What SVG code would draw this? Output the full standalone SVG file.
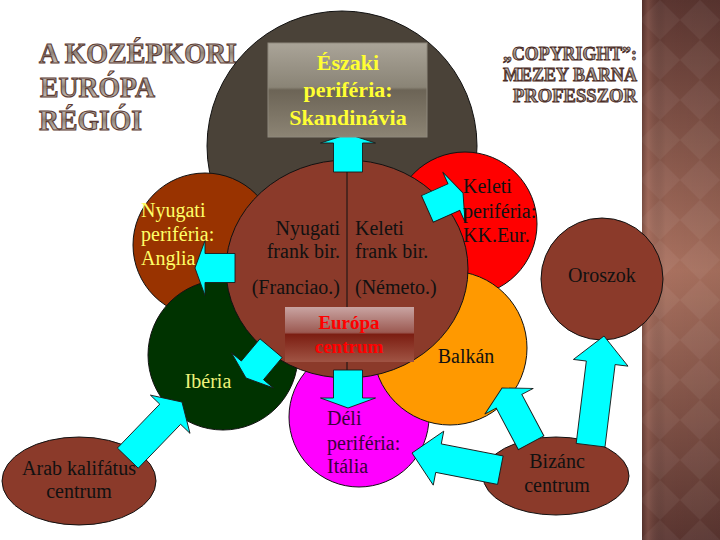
<svg xmlns="http://www.w3.org/2000/svg" width="720" height="540" viewBox="0 0 720 540">
<defs>
<linearGradient id="panelV" x1="0" y1="0" x2="0" y2="1">
<stop offset="0" stop-color="#5a3530"/>
<stop offset="0.5" stop-color="#a9715f"/>
<stop offset="1" stop-color="#5a3530"/>
</linearGradient>
<linearGradient id="panelH" x1="0" y1="0" x2="1" y2="0">
<stop offset="0" stop-color="#3a1e1a" stop-opacity="0.35"/>
<stop offset="0.08" stop-color="#c08070" stop-opacity="0.25"/>
<stop offset="0.3" stop-color="#000" stop-opacity="0"/>
<stop offset="1" stop-color="#000" stop-opacity="0.05"/>
</linearGradient>
<pattern id="diam" width="40" height="40" patternUnits="userSpaceOnUse">
<path d="M0 20 L20 0 L40 20 L20 40 Z" fill="#ffffff" fill-opacity="0.05"/>
</pattern>
<linearGradient id="titleFill" x1="0" y1="0" x2="0" y2="1">
<stop offset="0" stop-color="#f2eeea"/>
<stop offset="0.5" stop-color="#8e847a"/>
<stop offset="1" stop-color="#e4ded8"/>
</linearGradient>
<linearGradient id="northBox" x1="0" y1="0" x2="0" y2="1">
<stop offset="0" stop-color="#aaa498"/>
<stop offset="0.47" stop-color="#8a8476"/>
<stop offset="0.5" stop-color="#6c6456"/>
<stop offset="1" stop-color="#8c8474"/>
</linearGradient>
<linearGradient id="euBox" x1="0" y1="0" x2="0" y2="1">
<stop offset="0" stop-color="#c9a4a2"/>
<stop offset="0.46" stop-color="#9c5a52"/>
<stop offset="0.5" stop-color="#7c1e12"/>
<stop offset="1" stop-color="#a05444"/>
</linearGradient>
<polygon id="dummy" points="0,0"/>
</defs>
<style>
.title{font-family:"Liberation Serif","Times New Roman",serif;font-weight:bold;font-size:30px;fill:url(#titleFill);stroke:#5c3c34;stroke-width:1.1px}
.copy{font-family:"Liberation Serif","Times New Roman",serif;font-weight:bold;font-size:18px;fill:url(#titleFill);stroke:#4a2c26;stroke-width:0.9px;text-anchor:end}
.reg{stroke:#111;stroke-width:1}
.lbl{font-family:"Liberation Serif","Times New Roman",serif;font-size:20px;fill:#111}
.arrow{fill:#00ffff;stroke:#1a1a1a;stroke-width:0.9;stroke-linejoin:miter}
</style>

<rect x="0" y="0" width="720" height="540" fill="#ffffff"/>
<g id="panel">
<rect x="642" y="0" width="78" height="540" fill="url(#panelV)"/>
<rect x="642" y="0" width="78" height="540" fill="url(#diam)"/>
<rect x="642" y="0" width="78" height="540" fill="url(#panelH)"/>
</g>

<g id="title">
<text class="title" x="39" y="63" textLength="198" lengthAdjust="spacingAndGlyphs">A KOZÉPKORI</text>
<text class="title" x="40" y="97" textLength="115" lengthAdjust="spacingAndGlyphs">EURÓPA</text>
<text class="title" x="39" y="130" textLength="103" lengthAdjust="spacingAndGlyphs">RÉGIÓI</text>
</g>
<g id="copyright">
<text class="copy" x="637" y="60" textLength="134" lengthAdjust="spacingAndGlyphs">„COPYRIGHT”:</text>
<text class="copy" x="637" y="81" textLength="134" lengthAdjust="spacingAndGlyphs">MEZEY BARNA</text>
<text class="copy" x="637" y="102" textLength="124" lengthAdjust="spacingAndGlyphs">PROFESSZOR</text>
</g>

<g id="eszaki-region"><circle class="reg" cx="342" cy="146" r="135" fill="#4a4238"/></g>
<g id="keleti"><circle class="reg" cx="465" cy="224" r="72" fill="#ff0000"/></g>
<g id="nyugati"><circle class="reg" cx="205" cy="245" r="72" fill="#993300"/></g>
<g id="iberia"><circle class="reg" cx="223" cy="355" r="75" fill="#003300"/></g>
<g id="deli"><circle class="reg" cx="359" cy="417" r="70" fill="#ff00ff"/></g>
<g id="balkan"><circle class="reg" cx="450" cy="348" r="77" fill="#ff9900"/></g>
<g id="frank"><ellipse class="reg" cx="347" cy="269" rx="121" ry="109" fill="#8b3a2a"/>
<line x1="347" y1="160" x2="347" y2="378" stroke="#111" stroke-width="1"/></g>
<g id="oroszok"><circle class="reg" cx="602" cy="279" r="61" fill="#8b3a2a"/></g>
<g id="arab"><ellipse class="reg" cx="79" cy="481" rx="77" ry="44" fill="#8b3a2a"/></g>
<g id="bizanc"><ellipse class="reg" cx="556" cy="476" rx="73" ry="39" fill="#8b3a2a"/></g>

<g id="connectors">
<polygon class="arrow" transform="translate(348,134) rotate(-90)" points="0,0 -9,-27.5 -9,-14.5 -38,-14.5 -38,14.5 -9,14.5 -9,27.5"/>
<polygon class="arrow" transform="translate(195,268) rotate(180)" points="0,0 -10,-27.5 -10,-14.5 -40,-14.5 -40,14.5 -10,14.5 -10,27.5"/>
<polygon class="arrow" transform="translate(463,193) rotate(-24)" points="0,0 -10,-27.5 -10,-14.5 -39,-14.5 -39,14.5 -10,14.5 -10,27.5"/>
<polygon class="arrow" transform="translate(246,378) rotate(130)" points="0,0 -10,-27.5 -10,-14.5 -39,-14.5 -39,14.5 -10,14.5 -10,27.5"/>
<polygon class="arrow" transform="translate(348,408) rotate(90)" points="0,0 -10,-27.5 -10,-14.5 -38,-14.5 -38,14.5 -10,14.5 -10,27.5"/>
<polygon class="arrow" transform="translate(182,402) rotate(-46)" points="0,0 -17,-27.5 -17,-14.5 -78,-14.5 -78,14.5 -17,14.5 -17,27.5"/>
<polygon class="arrow" transform="translate(412,453) rotate(191)" points="0,0 -27,-27.5 -27,-14.5 -90,-14.5 -90,14.5 -27,14.5 -27,27.5"/>
<polygon class="arrow" transform="translate(502,388) rotate(-118)" points="0,0 -15,-27.5 -15,-14.5 -62,-14.5 -62,14.5 -15,14.5 -15,27.5"/>
<polygon class="arrow" transform="translate(604,336) rotate(-83)" points="0,0 -27,-27.5 -27,-14.5 -110,-14.5 -110,14.5 -27,14.5 -27,27.5"/>
</g>

<g id="eszaki-box">
<rect x="268" y="43" width="159" height="94" fill="url(#northBox)" stroke="#8e887c" stroke-width="1"/>
<g font-family="Liberation Serif, Times New Roman, serif" font-weight="bold" font-size="22" fill="#ffff33" text-anchor="middle">
<text x="348" y="70">Északi</text>
<text x="348" y="97">periféria:</text>
<text x="348" y="125">Skandinávia</text>
</g>
</g>

<g id="europa-box">
<rect x="285" y="307" width="129" height="55" fill="url(#euBox)"/>
<g font-family="Liberation Serif, Times New Roman, serif" font-weight="bold" font-size="19" fill="#ff0000" text-anchor="middle">
<text x="349" y="329">Európa</text>
<text x="349" y="353">centrum</text>
</g>
</g>

<g id="labels">
<g class="lbl" text-anchor="end">
<text x="340" y="235">Nyugati</text>
<text x="340" y="258">frank bir.</text>
<text x="340" y="294">(Franciao.)</text>
</g>
<g class="lbl">
<text x="355" y="235">Keleti</text>
<text x="355" y="258">frank bir.</text>
<text x="355" y="294">(Németo.)</text>
</g>
<g class="lbl" style="fill:#ffff66">
<text x="141" y="217">Nyugati</text>
<text x="141" y="241">periféria:</text>
<text x="141" y="265">Anglia</text>
</g>
<g class="lbl">
<text x="463" y="193">Keleti</text>
<text x="463" y="218">periféria:</text>
<text x="463" y="242">KK.Eur.</text>
</g>
<text class="lbl" x="602" y="282" text-anchor="middle">Oroszok</text>
<text class="lbl" x="466" y="363" text-anchor="middle">Balkán</text>
<text class="lbl" x="208" y="388" text-anchor="middle" style="fill:#eef27a">Ibéria</text>
<g class="lbl" style="fill:#3a003a">
<text x="327" y="425">Déli</text>
<text x="327" y="450">periféria:</text>
<text x="327" y="473">Itália</text>
</g>
<g class="lbl" text-anchor="middle">
<text x="557" y="468">Bizánc</text>
<text x="557" y="492">centrum</text>
</g>
<g class="lbl" text-anchor="middle">
<text x="79" y="475">Arab kalifátus</text>
<text x="79" y="498">centrum</text>
</g>
</g>
</svg>
